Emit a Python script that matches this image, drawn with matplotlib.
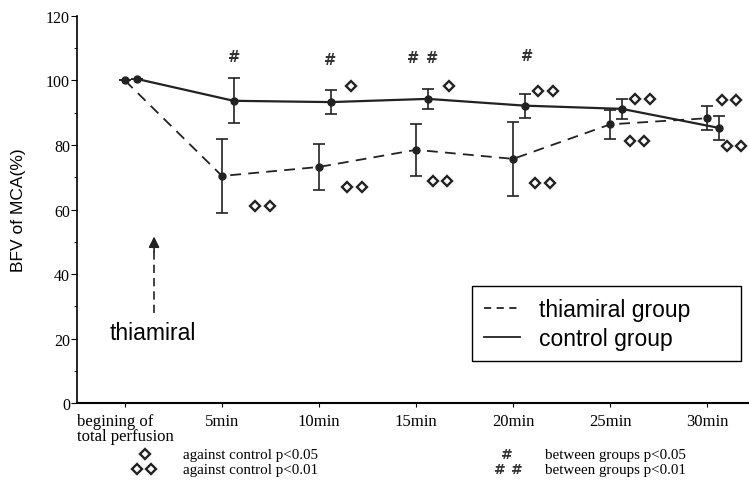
import matplotlib
matplotlib.use("Agg")
import matplotlib.pyplot as plt
from matplotlib.lines import Line2D
import numpy as np

# time points
time_labels = ['begining of\ntotal perfusion', '5min', '10min', '15min', '20min', '25min', '30min']

# thiamiral group (dashed)
thiamiral_mean = [100, 70.4, 73.2, 78.5, 75.7, 86.4, 88.3]
thiamiral_err = [0, 11.6, 7.0, 8.0, 11.5, 4.5, 3.7]

# control group (solid), drawn slightly right of the tick
control_mean = [100.5, 93.7, 93.3, 94.3, 92.2, 91.2, 85.3]
control_err = [0, 7.0, 3.7, 3.2, 3.7, 3.0, 3.7]
control_shift = 0.12

# significance marks (x in time-index units)
hash_single_x = [1.13, 2.11, 4.14]
hash_single_y = [107.5, 106.4, 107.6]
hash_double_x = [2.97]
hash_double_y = [107.2]

diamond_single_x = [2.33, 3.34]
diamond_single_y = [98.3, 98.3]
diamond_double_x = [1.34, 2.29, 3.17, 4.26, 4.23, 5.26, 5.20, 6.15, 6.20]
diamond_double_y = [61.0, 67.0, 68.8, 96.7, 68.2, 94.3, 81.3, 93.9, 79.7]
pair_gap = 0.15

serif = 'Liberation Serif'
sans = 'Liberation Sans'
ink = '#222222'

fig = plt.figure(figsize=(7.49, 4.81), dpi=100)
ax = fig.add_axes([0.1028, 0.16, 0.8972, 0.8047])

x = np.arange(len(time_labels))

ax.errorbar(x, thiamiral_mean, yerr=thiamiral_err, color=ink, lw=1.3,
            dashes=(6, 4), marker='o', ms=5, capsize=4, elinewidth=1.2,
            capthick=1.2)
ax.errorbar(x + control_shift, control_mean, yerr=control_err, color=ink,
            lw=1.6, marker='o', ms=5, capsize=4, elinewidth=1.2,
            capthick=1.2)

# hash marks
hk = dict(fontfamily='DejaVu Sans', fontweight='bold', fontsize=10.5,
          ha='center', va='center', color='#333333')
for hx, hy in zip(hash_single_x, hash_single_y):
    ax.text(hx, hy, '#', **hk)
for hx, hy in zip(hash_double_x, hash_double_y):
    for dx in (0, 0.19):
        ax.text(hx + dx, hy, '#', **hk)

# diamond marks
dkw = dict(ls='none', marker='D', ms=5, mfc='white', mec=ink, mew=1.7,
           clip_on=False)
ax.plot(diamond_single_x, diamond_single_y, **dkw)
ax.plot(diamond_double_x, diamond_double_y, **dkw)
ax.plot(np.array(diamond_double_x) + pair_gap, diamond_double_y, **dkw)

# thiamiral injection arrow
ax.plot([0.3, 0.3], [28, 47], color=ink, lw=1.2, dashes=(5, 3))
ax.annotate('', xy=(0.3, 52.5), xytext=(0.3, 46),
            arrowprops=dict(arrowstyle='-|>', color=ink, lw=1.2,
                            mutation_scale=16))
ax.text(-0.155, 22, 'thiamiral', fontfamily=sans, fontsize=16.5,
        ha='left', va='center')

# axes styling
ax.set_xlim(-0.494, 6.43)
ax.set_ylim(0, 120)
for s in ('top', 'right'):
    ax.spines[s].set_visible(False)
ax.spines['left'].set_linewidth(1.2)
ax.spines['bottom'].set_linewidth(1.5)

ax.set_yticks(range(0, 121, 20))
ax.set_yticks(range(10, 120, 20), minor=True)
ax.tick_params(axis='y', which='major', length=4, labelsize=11.5, pad=1)
ax.tick_params(axis='y', which='minor', length=2.5)
for lab in ax.get_yticklabels():
    lab.set_fontfamily(serif)

ax.set_xticks(x)
ax.set_xticklabels(time_labels, fontfamily=serif, fontsize=12,
                   multialignment='left', linespacing=0.9)
ax.tick_params(axis='x', length=3, pad=4)

ax.set_ylabel('BFV of MCA(%)', fontfamily=sans, fontsize=12.5)
ax.yaxis.set_label_coords(-0.076, 0.5)

handles = [Line2D([], [], color=ink, lw=1.3, dashes=(4, 3)),
           Line2D([], [], color=ink, lw=1.3)]
leg = ax.legend(handles, ['thiamiral group', 'control group'],
                loc='lower left', bbox_to_anchor=(0.588, 0.1085, 0.4, 0.194),
                mode='expand', fancybox=False, edgecolor='black', framealpha=1,
                prop={'family': sans, 'size': 16.5}, handlelength=1.6,
                borderaxespad=0, labelspacing=0.25, borderpad=0.5)
leg.get_frame().set_linewidth(1.0)

# footnote key below the axes
fk = dict(ls='none', marker='D', ms=5, mfc='white', mec=ink, mew=1.7,
          transform=fig.transFigure, clip_on=False)
row1, row2 = 0.054, 0.022
ax.plot([0.1936], [row1], **fk)
ax.plot([0.183, 0.2016], [row2, row2], **fk)
tk = dict(fontfamily=serif, fontsize=10.8, va='center')
fig.text(0.2443, row1, 'against control p<0.05', **tk)
fig.text(0.2443, row2, 'against control p<0.01', **tk)
fhk = dict(hk, fontsize=10)
fig.text(0.677, row1, '#', **fhk)
fig.text(0.6676, row2, '#', **fhk)
fig.text(0.690, row2, '#', **fhk)
fig.text(0.7276, row1, 'between groups p<0.05', **tk)
fig.text(0.7276, row2, 'between groups p<0.01', **tk)

fig.savefig('out.png', dpi=100)
